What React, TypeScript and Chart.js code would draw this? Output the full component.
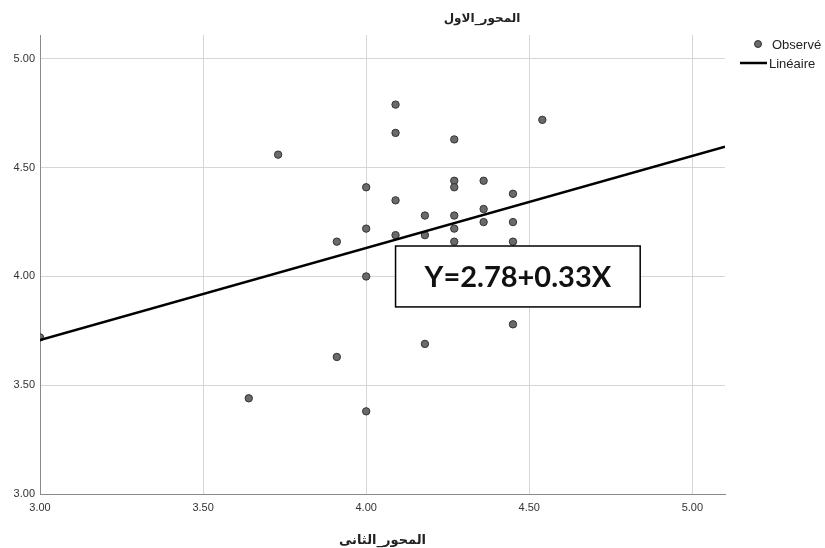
import React, { useEffect, useRef } from "react";
import { Chart, registerables } from "chart.js";

Chart.register(...registerables);

const chartTitle = "المحور_الاول";
const xAxisTitle = "المحور_الثانى";
const xTickValues = [3, 3.5, 4, 4.5, 5];
const yTickValues = [3, 3.5, 4, 4.5, 5];
const xRange = [3, 5.1];
const yRange = [3, 5.11];

const observedX = [3.0, 3.64, 3.73, 3.91, 3.91, 4.0, 4.0, 4.0, 4.0, 4.09, 4.09, 4.09, 4.09, 4.18, 4.18, 4.18, 4.27, 4.27, 4.27, 4.27, 4.27, 4.27, 4.36, 4.36, 4.36, 4.45, 4.45, 4.45, 4.45, 4.54];
const observedY = [3.72, 3.44, 4.56, 4.16, 3.63, 4.41, 4.22, 4.0, 3.38, 4.79, 4.66, 4.35, 4.19, 4.28, 4.19, 3.69, 4.63, 4.44, 4.41, 4.28, 4.22, 4.16, 4.44, 4.31, 4.25, 4.38, 4.25, 4.16, 3.78, 4.72];

const fitX = [3.0, 5.1];
const fitY = [3.708, 4.596];

const legendLabels = ["Observé", "Linéaire"];
const equationText = "Y=2.78+0.33X";
// equation box corners in data units [xLeft, xRight, yTop, yBottom]
const equationBox = [4.09, 4.84, 4.14, 3.86];

export default function App() {
  const canvasRef = useRef<HTMLCanvasElement | null>(null);

  useEffect(() => {
    const canvas = canvasRef.current;
    if (!canvas) return;

    const decorPlugin = {
      id: "decor",
      afterDatasetsDraw(chart: any) {
        const ctx = chart.ctx;
        const xs = chart.scales.x;
        const ys = chart.scales.y;
        const l = xs.getPixelForValue(equationBox[0]);
        const r = xs.getPixelForValue(equationBox[1]);
        const t = ys.getPixelForValue(equationBox[2]);
        const b = ys.getPixelForValue(equationBox[3]);
        ctx.save();
        ctx.fillStyle = "#ffffff";
        ctx.fillRect(l, t, r - l, b - t);
        ctx.strokeStyle = "#000000";
        ctx.lineWidth = 1.5;
        ctx.strokeRect(l, t, r - l, b - t);
        ctx.fillStyle = "#111111";
        ctx.font = "bold 29px Lato, 'Open Sans', sans-serif";
        ctx.textAlign = "center";
        ctx.textBaseline = "middle";
        ctx.fillText(equationText, (l + r) / 2, (t + b) / 2 + 1);
        ctx.restore();
      },
      afterDraw(chart: any) {
        const ctx = chart.ctx;
        ctx.save();
        // title
        ctx.fillStyle = "#222222";
        ctx.font = "bold 12px 'DejaVu Sans', sans-serif";
        ctx.textAlign = "center";
        ctx.textBaseline = "middle";
        ctx.fillText(chartTitle, 482, 19);
        // legend
        ctx.font = "13px 'Liberation Sans', Arial, sans-serif";
        ctx.textAlign = "left";
        ctx.beginPath();
        ctx.arc(758, 44, 3.5, 0, Math.PI * 2);
        ctx.fillStyle = "#6a6a6a";
        ctx.fill();
        ctx.lineWidth = 1;
        ctx.strokeStyle = "#333333";
        ctx.stroke();
        ctx.fillStyle = "#222222";
        ctx.fillText(legendLabels[0], 772, 45);
        ctx.beginPath();
        ctx.moveTo(740, 63);
        ctx.lineTo(767, 63);
        ctx.strokeStyle = "#000000";
        ctx.lineWidth = 2.5;
        ctx.stroke();
        ctx.fillStyle = "#222222";
        ctx.fillText(legendLabels[1], 769, 64);
        ctx.restore();
      },
    };

    const tickFont = { family: "'Liberation Sans', Arial, sans-serif", size: 11 };

    const chart = new Chart(canvas, {
      type: "scatter",
      data: {
        datasets: [
          {
            label: legendLabels[0],
            data: observedX.map((x, i) => ({ x, y: observedY[i] })),
            pointRadius: 3.7,
            pointHoverRadius: 3.7,
            pointBackgroundColor: "#6a6a6a",
            pointBorderColor: "#333333",
            pointBorderWidth: 1,
            showLine: false,
            clip: 0,
            order: 2,
          },
          {
            label: legendLabels[1],
            data: fitX.map((x, i) => ({ x, y: fitY[i] })),
            showLine: true,
            borderColor: "#000000",
            borderWidth: 2.5,
            pointRadius: 0,
            order: 1,
          },
        ],
      },
      options: {
        animation: false,
        responsive: false,
        devicePixelRatio: 1,
        layout: { padding: { top: 35, right: 100, left: 0, bottom: 0 } },
        plugins: {
          legend: { display: false },
          title: { display: false },
          tooltip: { enabled: false },
        },
        scales: {
          x: {
            type: "linear",
            min: xRange[0],
            max: xRange[1],
            afterBuildTicks: (s: any) => {
              s.ticks = xTickValues.map((v) => ({ value: v }));
            },
            afterFit: (s: any) => {
              s.height = 54;
            },
            grid: { color: "#d6d6d6", lineWidth: 1, drawTicks: false },
            border: { color: "#8a8a8a", width: 1 },
            ticks: {
              callback: (v: any) => Number(v).toFixed(2),
              font: tickFont,
              color: "#333333",
              padding: 7,
              maxRotation: 0,
              autoSkip: false,
            },
            title: {
              display: true,
              text: xAxisTitle,
              font: { family: "'DejaVu Sans', sans-serif", size: 13, weight: "bold" },
              color: "#222222",
              padding: { top: 0, bottom: 0 },
            },
          },
          y: {
            type: "linear",
            min: yRange[0],
            max: yRange[1],
            afterBuildTicks: (s: any) => {
              s.ticks = yTickValues.map((v) => ({ value: v }));
            },
            afterFit: (s: any) => {
              s.width = 40;
            },
            grid: { color: "#d6d6d6", lineWidth: 1, drawTicks: false },
            border: { color: "#8a8a8a", width: 1 },
            ticks: {
              callback: (v: any) => Number(v).toFixed(2),
              font: tickFont,
              color: "#333333",
              padding: 5,
              autoSkip: false,
            },
          },
        },
      },
      plugins: [decorPlugin],
    } as any);

    return () => {
      chart.destroy();
    };
  }, []);

  return (
    <div style={{ position: "fixed", left: 0, top: 0, width: 825, height: 548, background: "#ffffff" }}>
      <canvas ref={canvasRef} width={825} height={548} style={{ display: "block" }} />
    </div>
  );
}
